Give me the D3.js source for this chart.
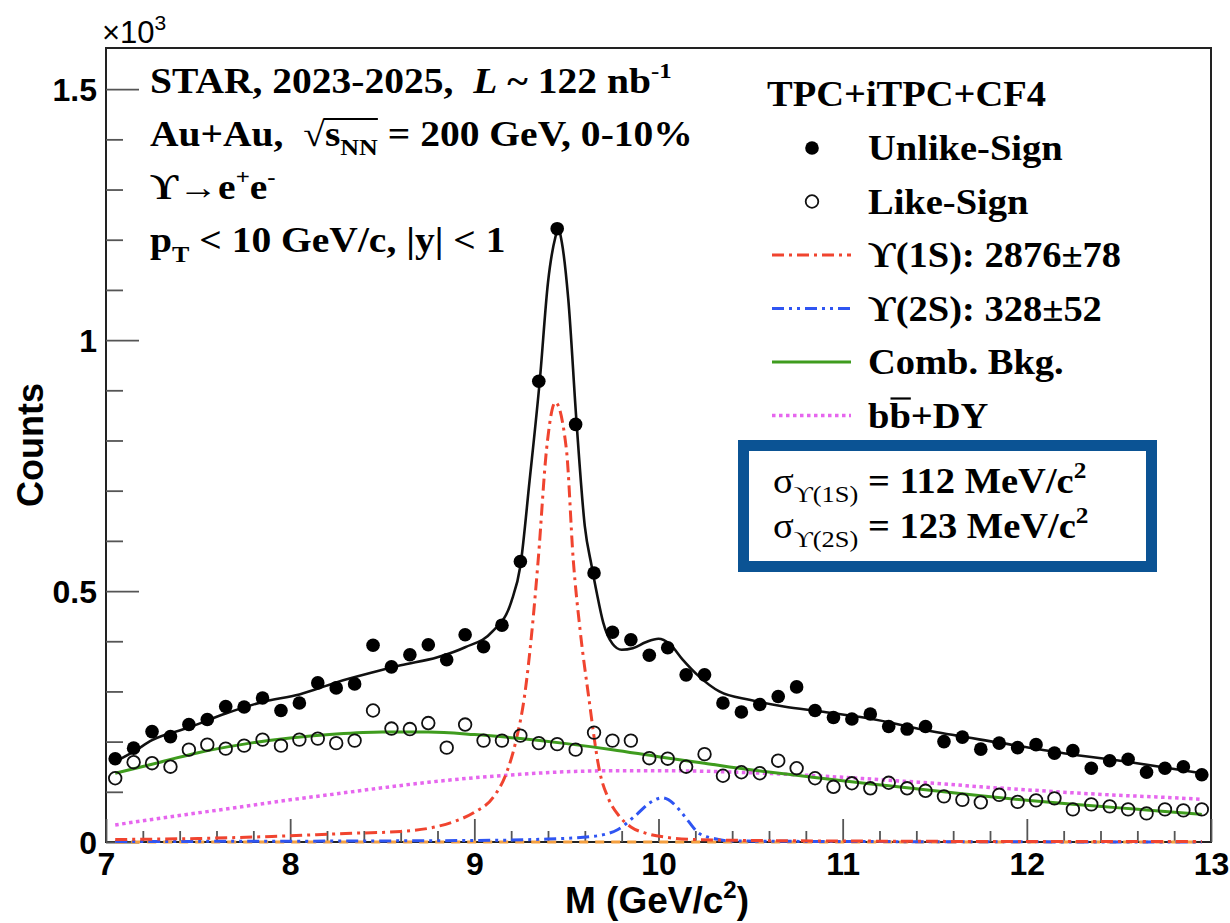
<!DOCTYPE html>
<html>
<head>
<meta charset="utf-8">
<script src="https://cdn.jsdelivr.net/npm/d3@7"></script>
<style>
  body { margin: 0; background: #fff; }
  svg { display: block; }
  .serif { font-family: "Liberation Serif", "DejaVu Serif", serif; font-weight: bold; fill: #000; }
  .sans { font-family: "Liberation Sans", Arial, sans-serif; font-weight: bold; fill: #000; }
</style>
</head>
<body>
<script>
// bin centres (GeV/c^2), counts in units of 10^3
const massBins = [7.05, 7.15, 7.25, 7.35, 7.45, 7.55, 7.65, 7.75, 7.85, 7.95,
    8.05, 8.15, 8.25, 8.35, 8.45, 8.55, 8.65, 8.75, 8.85, 8.95,
    9.05, 9.15, 9.25, 9.35, 9.45, 9.55, 9.65, 9.75, 9.85, 9.95,
    10.05, 10.15, 10.25, 10.35, 10.45, 10.55, 10.65, 10.75, 10.85, 10.95,
    11.05, 11.15, 11.25, 11.35, 11.45, 11.55, 11.65, 11.75, 11.85, 11.95,
    12.05, 12.15, 12.25, 12.35, 12.45, 12.55, 12.65, 12.75, 12.85, 12.95];

const unlikeSign = [0.166, 0.187, 0.220, 0.210, 0.234, 0.244, 0.270, 0.269, 0.287, 0.262,
    0.277, 0.317, 0.307, 0.315, 0.392, 0.349, 0.373, 0.393, 0.363, 0.413,
    0.389, 0.432, 0.559, 0.918, 1.222, 0.832, 0.536, 0.418, 0.403, 0.372,
    0.387, 0.333, 0.333, 0.277, 0.259, 0.274, 0.290, 0.309, 0.262, 0.248,
    0.245, 0.255, 0.230, 0.225, 0.230, 0.200, 0.209, 0.185, 0.197, 0.188,
    0.194, 0.177, 0.182, 0.147, 0.162, 0.165, 0.139, 0.147, 0.150, 0.134];

const likeSign = [0.127, 0.159, 0.157, 0.150, 0.184, 0.194, 0.186, 0.192, 0.204, 0.192,
    0.204, 0.206, 0.197, 0.202, 0.262, 0.226, 0.225, 0.237, 0.188, 0.234,
    0.202, 0.202, 0.212, 0.197, 0.195, 0.184, 0.218, 0.202, 0.202, 0.167,
    0.166, 0.150, 0.175, 0.132, 0.139, 0.137, 0.162, 0.147, 0.127, 0.110,
    0.117, 0.107, 0.118, 0.107, 0.102, 0.091, 0.084, 0.079, 0.094, 0.080,
    0.083, 0.087, 0.065, 0.075, 0.071, 0.065, 0.057, 0.065, 0.063, 0.065];

// fit curves: [mass, counts]
const fitTotal = [[7.05, 0.160], [7.15, 0.180], [7.25, 0.203], [7.45, 0.228], [7.65, 0.256],
    [7.85, 0.279], [8.05, 0.294], [8.25, 0.318], [8.45, 0.338], [8.6, 0.352], [8.8, 0.368],
    [8.95, 0.388], [9.1, 0.420], [9.2, 0.478], [9.25, 0.55], [9.3, 0.72], [9.356, 0.922],
    [9.40, 1.115], [9.44, 1.205], [9.455, 1.222], [9.475, 1.195], [9.51, 1.082], [9.555, 0.836],
    [9.60, 0.629], [9.637, 0.55], [9.665, 0.496], [9.70, 0.437], [9.75, 0.395], [9.8, 0.383],
    [9.86, 0.386], [9.93, 0.398], [10.0, 0.405], [10.06, 0.395], [10.13, 0.364], [10.22, 0.330],
    [10.33, 0.300], [10.5, 0.283], [10.68, 0.270], [10.88, 0.260], [11.13, 0.247], [11.49, 0.220],
    [11.85, 0.198], [12.2, 0.177], [12.58, 0.158], [12.95, 0.137]];

const fitUps1S = [[7.05, 0.005], [7.5, 0.007], [7.9, 0.011], [8.3, 0.017], [8.6, 0.021],
    [8.8, 0.031], [8.9, 0.042], [9.0, 0.059], [9.1, 0.088], [9.175, 0.138], [9.225, 0.20],
    [9.275, 0.297], [9.31, 0.41], [9.347, 0.563], [9.392, 0.782], [9.44, 0.876], [9.50, 0.782],
    [9.537, 0.563], [9.575, 0.42], [9.618, 0.297], [9.682, 0.138], [9.73, 0.085], [9.79, 0.05],
    [9.85, 0.03], [9.935, 0.017], [10.05, 0.009], [10.2, 0.005], [10.5, 0.003], [11.0, 0.002],
    [12.0, 0.001], [12.95, 0.001]];

const fitUps2S = [[7.05, 0.001], [9.0, 0.003], [9.4, 0.006], [9.64, 0.011], [9.78, 0.025],
    [9.876, 0.053], [9.953, 0.078], [10.02, 0.088], [10.08, 0.077], [10.118, 0.062],
    [10.157, 0.044], [10.217, 0.018], [10.3, 0.007], [10.4, 0.002], [11.0, 0.001], [12.95, 0.0]];

const fitUps3S = [[7.05, 0.0], [10.35, 0.0], [12.95, 0.0]];

const fitCombBkg = [[7.05, 0.137], [7.25, 0.155], [7.5, 0.178], [7.75, 0.195], [8.0, 0.207],
    [8.25, 0.215], [8.5, 0.219], [8.75, 0.219], [9.0, 0.214], [9.25, 0.206], [9.5, 0.196],
    [9.75, 0.184], [10.0, 0.170], [10.25, 0.157], [10.5, 0.144], [10.75, 0.133], [11.0, 0.122],
    [11.25, 0.112], [11.5, 0.102], [11.75, 0.092], [12.0, 0.083], [12.25, 0.075], [12.5, 0.068],
    [12.75, 0.061], [12.95, 0.055]];

const fitBbDY = [[7.05, 0.034], [7.25, 0.045], [7.5, 0.058], [7.75, 0.071], [8.0, 0.084],
    [8.25, 0.096], [8.5, 0.108], [8.75, 0.119], [9.0, 0.128], [9.25, 0.135], [9.5, 0.140],
    [9.75, 0.142], [10.0, 0.142], [10.25, 0.141], [10.5, 0.138], [10.75, 0.134], [11.0, 0.129],
    [11.25, 0.123], [11.5, 0.117], [11.75, 0.110], [12.0, 0.104], [12.25, 0.098], [12.5, 0.093],
    [12.75, 0.089], [12.95, 0.085]];

const xTicks = [7, 8, 9, 10, 11, 12, 13];
const yTicks = [0, 0.5, 1, 1.5];
const legendLabels = ["Unlike-Sign", "Like-Sign", "ϒ(1S): 2876±78", "ϒ(2S): 328±52", "Comb. Bkg.", "bb+DY"];

const width = 1230;
const height = 923;
const plotLeft = 106, plotRight = 1211, plotTop = 48, plotBottom = 842;
const stretch = 1.1;   // serif text in the figure is a bit wider than tall
const serifSize = 35;

const svg = d3.select("body").append("svg")
    .attr("width", width)
    .attr("height", height);

const x = d3.scaleLinear().domain([7, 13]).range([plotLeft, plotRight]);
const y = d3.scaleLinear().domain([0, 1.582]).range([plotBottom, plotTop]);

// ---- frame
svg.append("rect")
    .attr("x", plotLeft)
    .attr("y", plotTop)
    .attr("width", plotRight - plotLeft)
    .attr("height", plotBottom - plotTop)
    .attr("fill", "none")
    .attr("stroke", "#222")
    .attr("stroke-width", 2);

// ---- axes (ROOT style: ticks inside the frame)
const minorX = d3.range(7, 13.001, 0.2).filter(v => Math.abs(v - Math.round(v)) > 1e-6);
const minorY = d3.range(0, 1.58, 0.1).filter(v => Math.abs(v * 2 - Math.round(v * 2)) > 1e-6);

svg.append("g")
    .attr("transform", `translate(0,${plotBottom})`)
    .call(d3.axisBottom(x).tickValues(xTicks).tickFormat(d3.format("d"))
        .tickSizeInner(-23).tickSizeOuter(0).tickPadding(10));
svg.append("g")
    .attr("transform", `translate(0,${plotBottom})`)
    .call(d3.axisBottom(x).tickValues(minorX).tickFormat("").tickSizeInner(-11).tickSizeOuter(0));

const yAxis = svg.append("g")
    .attr("transform", `translate(${plotLeft},0)`)
    .call(d3.axisLeft(y).tickValues(yTicks).tickFormat(d3.format("~g"))
        .tickSizeInner(-33).tickSizeOuter(0).tickPadding(9));
svg.append("g")
    .attr("transform", `translate(${plotLeft},0)`)
    .call(d3.axisLeft(y).tickValues(minorY).tickFormat("").tickSizeInner(-17).tickSizeOuter(0));

svg.selectAll(".domain").remove();
svg.selectAll(".tick line").attr("stroke", "#555").attr("stroke-width", 1.8);
svg.selectAll(".tick text")
    .attr("class", "sans")
    .style("font-size", "32px");
yAxis.selectAll(".tick text").attr("dy", "0.36em");

// ---- fit curves
const line = d3.line()
    .x(d => x(d[0]))
    .y(d => y(d[1]))
    .curve(d3.curveMonotoneX);

const curves = [
    {data: fitBbDY, color: "#e666ee", width: 3.5, dash: "3.5,3.5"},
    {data: fitUps3S, color: "#f5a040", width: 3, dash: "9,7"},
    {data: fitUps2S, color: "#2f55f2", width: 3, dash: "12,5,3,5,3,5"},
    {data: fitUps1S, color: "#f0442f", width: 3, dash: "12,5,3,5"},
    {data: fitCombBkg, color: "#3f9c1e", width: 3, dash: null}
];

curves.forEach(c => {
    svg.append("path")
        .datum(c.data)
        .attr("d", line)
        .attr("fill", "none")
        .attr("stroke", c.color)
        .attr("stroke-width", c.width)
        .attr("stroke-dasharray", c.dash);
});

// ---- data points
svg.append("g").selectAll("circle")
    .data(likeSign)
    .enter()
    .append("circle")
    .attr("cx", (d, i) => x(massBins[i]))
    .attr("cy", d => y(d))
    .attr("r", 6.3)
    .attr("fill", "none")
    .attr("stroke", "#111")
    .attr("stroke-width", 1.8);

svg.append("path")
    .datum(fitTotal)
    .attr("d", line)
    .attr("fill", "none")
    .attr("stroke", "#111")
    .attr("stroke-width", 2.6);

svg.append("g").selectAll("circle")
    .data(unlikeSign)
    .enter()
    .append("circle")
    .attr("cx", (d, i) => x(massBins[i]))
    .attr("cy", d => y(d))
    .attr("r", 6.8)
    .attr("fill", "#000");

// ---- text helpers
function richText(px, py, parts, size, cls, sx) {
    const g = svg.append("g")
        .attr("transform", `translate(${px},${py}) scale(${sx},1)`);
    const t = g.append("text")
        .attr("class", cls)
        .style("font-size", size + "px")
        .style("white-space", "pre");
    let shift = 0;
    parts.forEach(p => {
        const target = p.sup ? (p.shift || -0.42 * size) : p.sub ? (p.shift || 0.28 * size) : 0;
        const span = t.append("tspan").text(p.t).attr("dy", target - shift);
        shift = target;
        if (p.size) span.style("font-size", p.size + "px");
        else if (p.sup || p.sub) span.style("font-size", Math.round(0.65 * size) + "px");
        if (p.italic) span.style("font-style", "italic");
        if (p.normal) span.style("font-weight", "normal");
    });
    return {g, t};
}

function overline(obj, fromIdx, toIdx, dyLine, fromStart) {
    const node = obj.t.node();
    const x1 = fromStart ? node.getStartPositionOfChar(fromIdx).x + 1 : node.getEndPositionOfChar(fromIdx).x - 1;
    const x2 = node.getEndPositionOfChar(toIdx).x;
    obj.g.append("line")
        .attr("x1", x1).attr("x2", x2)
        .attr("y1", dyLine).attr("y2", dyLine)
        .attr("stroke", "#000")
        .attr("stroke-width", 2.2);
}

// ---- top-left labels
const infoStretch = 1.13;
richText(150, 93, [{t: "STAR, 2023-2025,  "}, {t: "L", italic: true}, {t: " ~ 122 nb"}, {t: "-1", sup: true, size: 22}],
    serifSize, "serif", infoStretch);
const rootLine = richText(150, 146, [{t: "Au+Au,  "}, {t: "√", normal: true}, {t: "s"}, {t: "NN", sub: true, size: 23, shift: 9}, {t: " = 200 GeV, 0-10%"}],
    serifSize, "serif", infoStretch);
overline(rootLine, 8, 11, -27, false);
richText(150, 199, [{t: "ϒ→e"}, {t: "+", sup: true, size: 22}, {t: "e"}, {t: "-", sup: true, size: 22}],
    serifSize, "serif", infoStretch);
richText(150, 252, [{t: "p"}, {t: "T", sub: true, size: 23, shift: 10}, {t: " < 10 GeV/c, |y| < 1"}],
    serifSize, "serif", infoStretch);

// ---- legend
richText(767, 106, [{t: "TPC+iTPC+CF4"}], serifSize, "serif", stretch);

const legendY0 = 160, legendStep = 53.5;
const legendText = legendLabels.map((lab, i) =>
    richText(868, legendY0 + i * legendStep, [{t: lab}], serifSize, "serif", stretch));
overline(legendText[5], 1, 1, -29, true);

svg.append("circle")
    .attr("cx", 812).attr("cy", legendY0 - 12).attr("r", 6.8).attr("fill", "#000");
svg.append("circle")
    .attr("cx", 812).attr("cy", legendY0 + legendStep - 12).attr("r", 6.3)
    .attr("fill", "none").attr("stroke", "#111").attr("stroke-width", 1.8);

const legendCurves = [curves[3], curves[2], curves[4], curves[0]];
legendCurves.forEach((c, i) => {
    const ly = legendY0 + (i + 2) * legendStep - 12;
    svg.append("line")
        .attr("x1", 772).attr("x2", 851)
        .attr("y1", ly).attr("y2", ly)
        .attr("stroke", c.color)
        .attr("stroke-width", c.width)
        .attr("stroke-dasharray", c.dash);
});

// ---- resolution box
svg.append("rect")
    .attr("x", 743.5).attr("y", 445.5)
    .attr("width", 408).attr("height", 121)
    .attr("fill", "none")
    .attr("stroke", "#0b5394")
    .attr("stroke-width", 11);

richText(773, 493, [{t: "σ", normal: true}, {t: "ϒ(1S)", sub: true, size: 24, shift: 9, normal: true},
    {t: " = 112 MeV/c"}, {t: "2", sup: true, size: 23, shift: -15}], serifSize, "serif", stretch);
richText(773, 538, [{t: "σ", normal: true}, {t: "ϒ(2S)", sub: true, size: 24, shift: 9, normal: true},
    {t: " = 123 MeV/c"}, {t: "2", sup: true, size: 23, shift: -15}], serifSize, "serif", stretch);

// ---- axis titles
svg.append("text")
    .attr("class", "sans")
    .attr("transform", "translate(43,445) rotate(-90)")
    .attr("text-anchor", "middle")
    .style("font-size", "36px")
    .text("Counts");

const xTitle = svg.append("text")
    .attr("class", "sans")
    .attr("x", 657)
    .attr("y", 913)
    .attr("text-anchor", "middle")
    .style("font-size", "37px");
xTitle.append("tspan").text("M (GeV/c");
xTitle.append("tspan").text("2").attr("dy", -15).style("font-size", "24px");
xTitle.append("tspan").text(")").attr("dy", 15);

const expo = svg.append("text")
    .attr("class", "sans")
    .attr("x", 102)
    .attr("y", 43)
    .style("font-size", "31px")
    .style("font-weight", "normal");
expo.append("tspan").text("×10");
expo.append("tspan").text("3").attr("dy", -13).style("font-size", "21px");
</script>
</body>
</html>
